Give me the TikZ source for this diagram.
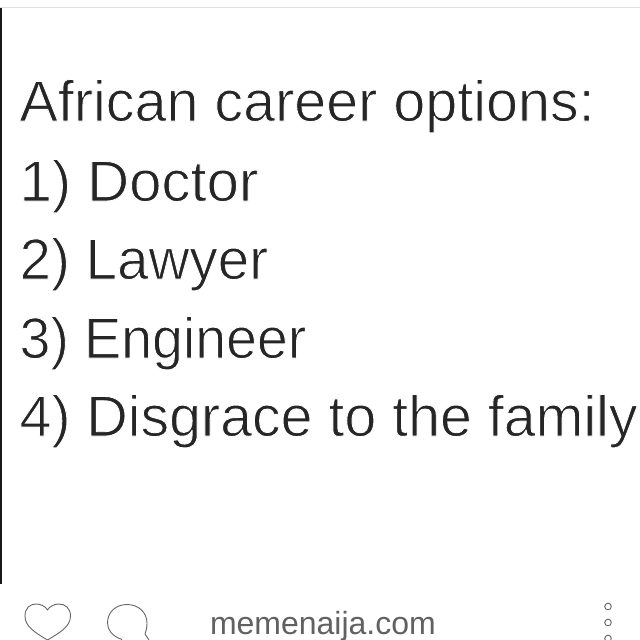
\documentclass[tikz,border=0pt]{standalone}
\usepackage{fontspec}
\setmainfont{Liberation Sans}
\newcommand{\thinstart}{\special{pdf: code 2 Tr 0.9 w 1 1 1 RG}}
\newcommand{\thinstop}{\special{pdf: code 0 Tr 0 G 1 w}}
\newcommand{\thintext}[2]{\scalebox{#1}[1]{\thinstart #2\thinstop}}
\tikzset{
  line/.style={anchor=base west,inner sep=0pt,outer sep=0pt,text=black!85,font=\fontsize{57.5}{60}\selectfont},
  site/.style={anchor=base west,inner sep=0pt,outer sep=0pt,text=black!62,font=\fontsize{32}{34}\selectfont},
  icon/.style={draw=black!60,line width=0.9pt},
}
\begin{document}
\begin{tikzpicture}[x=1pt,y=-1pt]
\useasboundingbox (0,0) rectangle (640,640);
\fill[white] (0,0) rectangle (640,640);
\draw[black!12,line width=0.7pt] (0,7) -- (640,7);
\fill[black!90] (0,8) rectangle (1.8,584);
\node[line] (t0) at (19.5,121) {\thintext{1}{African career options:}};
\node[line] (t1) at (19.5,201) {\thintext{1.01}{1) Doctor}};
\node[line] (t2) at (19.5,279) {\thintext{0.985}{2) Lawyer}};
\node[line] (t3) at (19.5,358) {\thintext{0.965}{3) Engineer}};
\node[line] (t4) at (19.5,436) {\thintext{0.997}{4) Disgrace to the family}};
\node[site] (s) at (210,634.5) {memenaija.com};
\draw[icon] (47.5,640) .. controls (36,633) and (25,627) .. (25,616)
  .. controls (25,608) and (30,604) .. (36,604)
  .. controls (41,604) and (45.5,606.5) .. (47.5,610)
  .. controls (49.5,606.5) and (54,604) .. (59,604)
  .. controls (65,604) and (70.5,608) .. (70.5,616)
  .. controls (70.5,627) and (59,633) .. (47.5,640);
\draw[icon] (122,639.5) .. controls (112,636) and (107.5,630) .. (107.5,623)
  .. controls (107.5,612) and (116,604.5) .. (127,604.5)
  .. controls (138,604.5) and (147,612) .. (147,623)
  .. controls (147,628) and (146,631) .. (145,634)
  .. controls (146,636) and (148,638) .. (149,640);
\draw[icon] (608,606.5) circle (3.3);
\draw[icon] (608,622.5) circle (3.3);
\draw[icon] (608,638.5) circle (3.3);
\end{tikzpicture}
\end{document}
